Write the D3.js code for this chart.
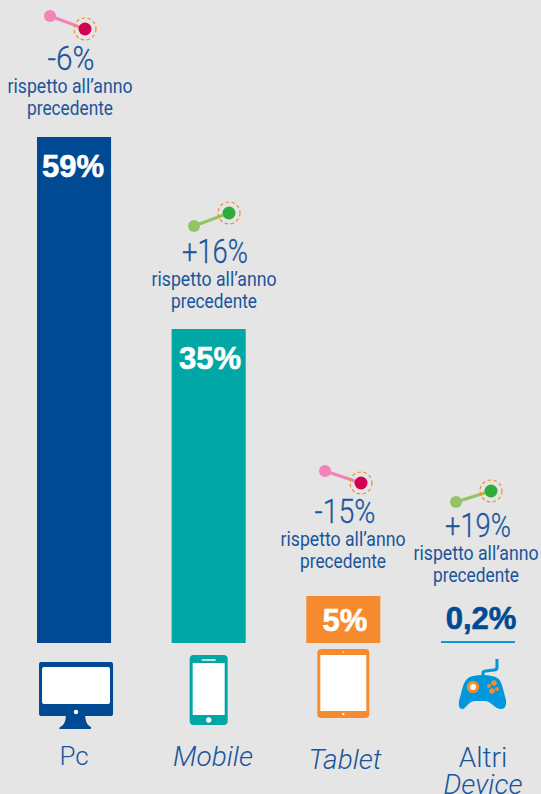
<!DOCTYPE html>
<html>
<head>
<meta charset="utf-8">
<script src="https://cdn.jsdelivr.net/npm/d3@7"></script>
<style>
  html, body { margin: 0; padding: 0; background: #e5e5e5; }
  svg { display: block; }
  text { font-family: "Liberation Sans", Arial, sans-serif; fill: #1a559b; text-anchor: middle; }
  .narrow { font-family: Roboto, "Liberation Sans", sans-serif; font-weight: 400; }
  .big { font-family: Roboto, "Liberation Sans", sans-serif; font-weight: 300; stroke: #1a559b; stroke-width: 0.3px; }
  .value { font-weight: 700; font-size: 31px; stroke-width: 0.6px; }
  .cat { font-family: Roboto, "Liberation Sans", sans-serif; font-weight: 300; }
</style>
</head>
<body>
<svg id="chart"></svg>
<script>
// data
var categories = ['Pc', 'Mobile', 'Tablet', 'Altri'];
var shares = [59, 35, 5, 0.2];
var shareLabels = ['59%', '35%', '5%', '0,2%'];
var changes = ['-6%', '+16%', '-15%', '+19%'];
var barColors = ['#004a93', '#00a7a5', '#f58b2e', '#0093d8'];

var width = 541,
  height = 794,
  baseY = 643;

var svg = d3.select('#chart').attr('width', width).attr('height', height);

var x = d3.scaleBand()
  .domain(categories)
  .range([37, 515])
  .paddingInner(0.45)
  .paddingOuter(0);

// the source bars are not drawn to one linear ratio, so the scale is piecewise
var y = d3.scaleLinear()
  .domain([0, 5, 35, 59])
  .range([baseY, 596, 329, 137]);

// bars
svg.selectAll('rect.bar')
  .data(shares)
  .enter()
  .append('rect')
  .attr('class', 'bar')
  .attr('x', function(d, i) { return x(categories[i]); })
  .attr('y', function(d) { return y(d); })
  .attr('width', x.bandwidth())
  .attr('height', function(d) { return baseY - y(d); })
  .attr('fill', function(d, i) { return barColors[i]; });

// value labels
var valueY = [177, 369, 631, 629];
var valueX = [73, 210, 345, 481];
svg.selectAll('text.value')
  .data(shareLabels)
  .enter()
  .append('text')
  .attr('class', 'value')
  .attr('x', function(d, i) { return valueX[i]; })
  .attr('y', function(d, i) { return valueY[i]; })
  .style('fill', function(d, i) { return i === 3 ? '#004a93' : '#fff'; })
  .style('stroke', function(d, i) { return i === 3 ? '#004a93' : '#fff'; })
  .text(function(d) { return d; });

// change labels with the little dumbbell glyph
var noteX = [70, 214, 343, 476];
var noteY = [70, 263, 523, 537];
var changeX = [71, 215, 345, 478];
var changeWidth = [47, 66, 61, 66];
var glyphs = [
  [50, 16, 85, 29],
  [194, 226, 229, 213],
  [325, 471, 361, 483],
  [456, 502, 491, 491]
];

changes.forEach(function(c, i) {
  var up = c.charAt(0) === '+';
  var g = glyphs[i];
  var note = svg.append('g');

  note.append('line')
    .attr('x1', g[0]).attr('y1', g[1]).attr('x2', g[2]).attr('y2', g[3])
    .attr('stroke', up ? '#93c463' : '#f283b6')
    .attr('stroke-width', 3);
  note.append('circle')
    .attr('cx', g[0]).attr('cy', g[1]).attr('r', 6)
    .attr('fill', up ? '#93c463' : '#f283b6');
  note.append('circle')
    .attr('cx', g[2]).attr('cy', g[3]).attr('r', 11)
    .attr('fill', 'none')
    .attr('stroke', '#f58b2e')
    .attr('stroke-width', 1.2)
    .attr('stroke-dasharray', '3.5 2.5');
  note.append('circle')
    .attr('cx', g[2]).attr('cy', g[3]).attr('r', 6.5)
    .attr('fill', up ? '#2fac3c' : '#d3004f');

  note.append('text')
    .attr('class', 'big')
    .attr('x', changeX[i]).attr('y', noteY[i])
    .attr('font-size', 34)
    .attr('textLength', changeWidth[i])
    .attr('lengthAdjust', 'spacingAndGlyphs')
    .text(c);
  note.append('text')
    .attr('class', 'narrow')
    .attr('x', noteX[i]).attr('y', noteY[i] + 23)
    .attr('font-size', 21)
    .attr('textLength', 125)
    .attr('lengthAdjust', 'spacingAndGlyphs')
    .text('rispetto all’anno');
  note.append('text')
    .attr('class', 'narrow')
    .attr('x', noteX[i]).attr('y', noteY[i] + 45)
    .attr('font-size', 21)
    .attr('textLength', 86)
    .attr('lengthAdjust', 'spacingAndGlyphs')
    .text('precedente');
});

// category labels
svg.append('text').attr('class', 'cat').attr('x', 74).attr('y', 765).attr('font-size', 26).text('Pc');
svg.append('text').attr('class', 'cat').attr('x', 213).attr('y', 766).attr('font-size', 28).style('font-style', 'italic').text('Mobile');
svg.append('text').attr('class', 'cat').attr('x', 345).attr('y', 769).attr('font-size', 28).style('font-style', 'italic').text('Tablet');
svg.append('text').attr('class', 'cat').attr('x', 483).attr('y', 767).attr('font-size', 28).text('Altri');
svg.append('text').attr('class', 'cat').attr('x', 483).attr('y', 794).attr('font-size', 28).style('font-style', 'italic').text('Device');

// icons, drawn around the centre of each bar
function center(i) { return x(categories[i]) + x.bandwidth() / 2; }

// monitor
var pc = svg.append('g').attr('transform', 'translate(' + center(0) + ',662)');
pc.append('path').attr('fill', '#004a93')
  .attr('d', 'M-8,50 L11,50 C11,60 13,63 17,65 Q18,67 15,67 L-13,67 Q-16,67 -14,65 C-10,63 -8,60 -8,50 Z');
pc.append('rect').attr('x', -35).attr('y', 0).attr('width', 74).attr('height', 54).attr('rx', 2).attr('fill', '#004a93');
pc.append('rect').attr('x', -32).attr('y', 5).attr('width', 68).attr('height', 37).attr('rx', 2).attr('fill', '#fff');
pc.append('circle').attr('cx', 2).attr('cy', 50).attr('r', 2.2).attr('fill', '#fff');

// phone
var phone = svg.append('g').attr('transform', 'translate(' + center(1) + ',655)');
phone.append('rect').attr('x', -19).attr('y', 0).attr('width', 38).attr('height', 70).attr('rx', 4).attr('fill', '#00a7a5');
phone.append('rect').attr('x', -16).attr('y', 8).attr('width', 32).attr('height', 52).attr('fill', '#fff');
phone.append('rect').attr('x', -7).attr('y', 4).attr('width', 14).attr('height', 2).attr('fill', '#b5e3e2');
phone.append('circle').attr('cx', 0).attr('cy', 65).attr('r', 2.7).attr('fill', '#fff');

// tablet
var tablet = svg.append('g').attr('transform', 'translate(' + center(2) + ',649)');
tablet.append('rect').attr('x', -26).attr('y', 0).attr('width', 52).attr('height', 69).attr('rx', 4).attr('fill', '#f58b2e');
tablet.append('rect').attr('x', -23).attr('y', 6).attr('width', 46).attr('height', 56).attr('fill', '#fff');
tablet.append('circle').attr('cx', 0).attr('cy', 3).attr('r', 1).attr('fill', '#fbd3ac');
tablet.append('rect').attr('x', -1).attr('y', 64).attr('width', 2).attr('height', 2).attr('fill', '#fff');

// gamepad
var pad = svg.append('g').attr('transform', 'translate(' + center(3) + ',658)');
pad.append('path').attr('fill', 'none').attr('stroke', '#0097dc').attr('stroke-width', 3)
  .attr('d', 'M5,21 L5,15 Q5,13 8,13 L16,12 Q19,12 19,9 L19,1');
pad.append('path').attr('fill', '#0097dc')
  .attr('d', 'M-5,18 Q5,16 14,18 Q22,19 24,27 L28,42 Q29,51 23,51 C17,51 13,43 7,43 L-3,43 C-9,43 -13,51 -15,51 Q-20,52 -19,43 L-15,28 Q-12,19 -5,18 Z');
pad.append('circle').attr('cx', -5).attr('cy', 29).attr('r', 6.2).attr('fill', '#f58b2e');
pad.append('circle').attr('cx', -5).attr('cy', 29).attr('r', 3).attr('fill', '#fff');
pad.append('circle').attr('cx', 16).attr('cy', 25).attr('r', 2.8).attr('fill', '#f58b2e');
pad.append('circle').attr('cx', 11).attr('cy', 28).attr('r', 2).attr('fill', '#f58b2e');
pad.append('circle').attr('cx', 19).attr('cy', 31).attr('r', 2).attr('fill', '#f58b2e');
pad.append('circle').attr('cx', 14).attr('cy', 33).attr('r', 2.8).attr('fill', '#f58b2e');
</script>
</body>
</html>
